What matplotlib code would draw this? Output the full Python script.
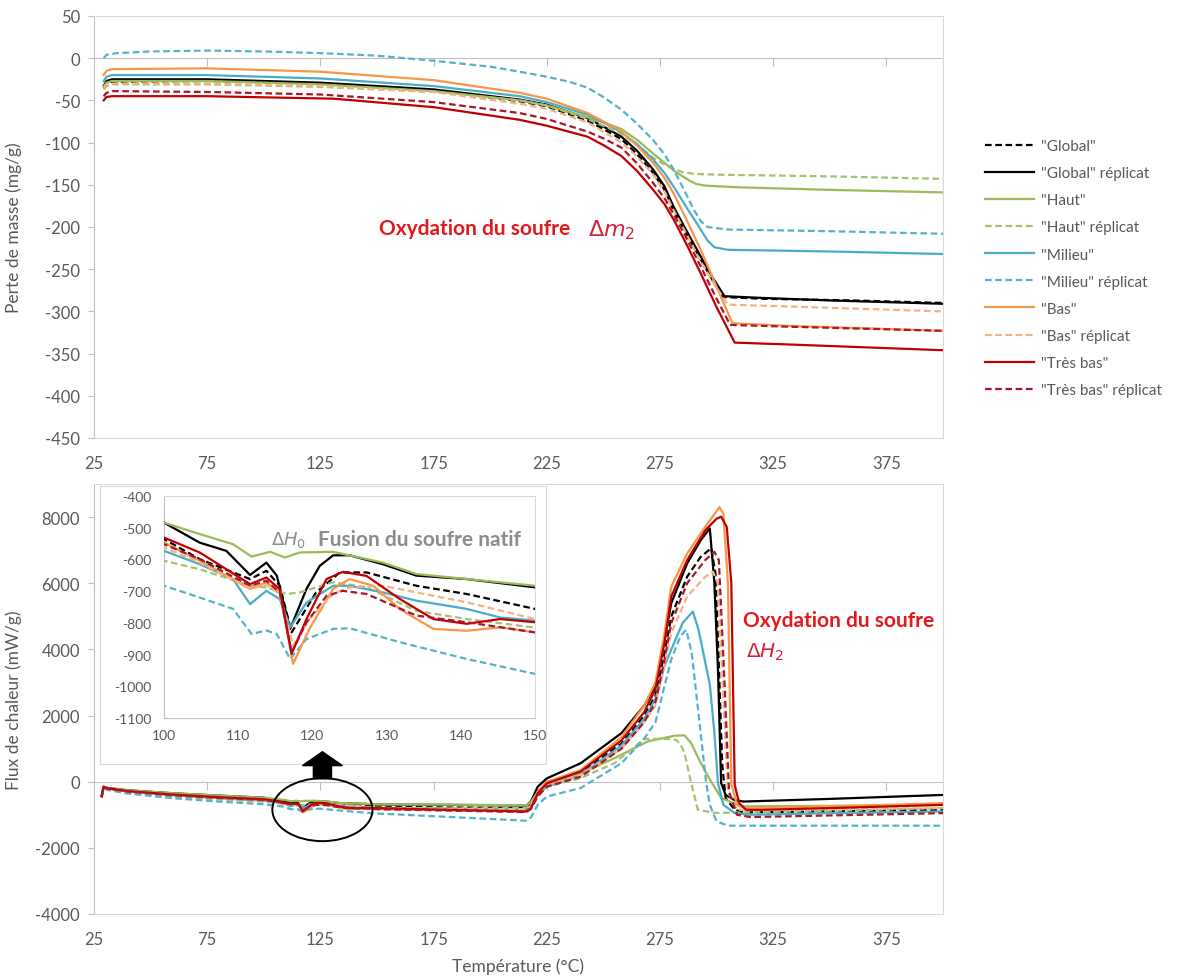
import numpy as np
import matplotlib
matplotlib.use('Agg')
import matplotlib.pyplot as plt
from matplotlib.patches import Ellipse, FancyArrow, Rectangle
from matplotlib.lines import Line2D

plt.rcParams['font.family'] = ['Lato', 'DejaVu Sans']
plt.rcParams['mathtext.fontset'] = 'dejavusans'
plt.rcParams['axes.unicode_minus'] = False

GREY = '#595959'
AXC = '#BFBFBF'

labels = ['"Global"', '"Global" réplicat', '"Haut"', '"Haut" réplicat',
          '"Milieu"', '"Milieu" réplicat', '"Bas"', '"Bas" réplicat',
          '"Très bas"', '"Très bas" réplicat']
colors = ['#000000', '#000000', '#9BBB59', '#A9BF74', '#4BACC6', '#55B2CC',
          '#F79646', '#F4B183', '#C00000', '#A8182A']
dashed = [True, False, False, True, False, True, False, True, False, True]

xticks = [25, 75, 125, 175, 225, 275, 325, 375]

# ---- perte de masse (TG), mg/g ----
tg_t_global = [29.3, 30.5, 33, 75, 125, 175, 213, 225, 243, 250, 258, 265, 272, 277, 281, 287, 293, 298, 303, 320, 360, 400]
tg_global = [-36, -30, -28, -27, -30, -38, -51, -57, -74, -84, -96, -114, -136, -156, -180, -210, -238, -262, -283, -285, -287, -290]
tg_t_global_r = [29.3, 30.5, 33, 75, 125, 175, 213, 225, 243, 250, 258, 265, 272, 277, 281, 287, 293, 298, 303.5, 320, 350, 400]
tg_global_r = [-33, -27, -25, -25, -29, -37, -49, -55, -71, -81, -93, -110, -132, -152, -176, -206, -235, -259, -282, -284, -287, -291]
tg_t_haut = [29.3, 30.5, 33, 75, 125, 175, 213, 225, 243, 250, 258, 265, 272, 277, 281, 285, 288, 291, 295, 310, 350, 400]
tg_haut = [-34, -29, -27, -27, -31, -39, -50, -56, -70, -76, -84, -97, -113, -124, -133, -140, -145, -149, -151, -153, -156, -159]
tg_t_haut_r = [29.3, 30.5, 33, 75, 125, 175, 213, 225, 243, 250, 258, 265, 272, 277, 281, 285, 290, 300, 350, 400]
tg_haut_r = [-37, -33, -31, -31, -34, -40, -50, -56, -72, -80, -90, -103, -118, -126, -131, -135, -137, -138, -140, -143]
tg_t_milieu = [29.3, 30.5, 33, 75, 125, 175, 213, 225, 243, 250, 258, 265, 272, 277, 281, 287, 293, 296, 299, 305, 350, 400]
tg_milieu = [-27, -22, -20, -20, -24, -33, -45, -52, -67, -76, -88, -102, -120, -136, -152, -178, -203, -216, -224, -227, -229, -232]
tg_t_milieu_r = [29.3, 30.5, 35, 50, 75, 100, 125, 150, 175, 200, 213, 225, 235, 243, 250, 258, 265, 272, 277, 281,
                 286, 290, 293, 296, 305, 350, 400]
tg_milieu_r = [0, 4, 6, 8, 9, 8, 6, 3, -3, -10, -16, -22, -28, -35, -46, -61, -78, -97, -114, -132,
               -158, -180, -193, -200, -203, -205, -208]
tg_t_bas = [29.3, 30.5, 33, 75, 125, 175, 213, 225, 243, 250, 258, 265, 272, 277, 281, 287, 293, 300, 307, 330, 400]
tg_bas = [-20, -15, -13, -12, -16, -26, -41, -48, -65, -75, -87, -104, -124, -142, -160, -193, -227, -271, -314, -317, -323]
tg_t_bas_r = [29.3, 30.5, 33, 75, 125, 175, 213, 225, 243, 250, 258, 265, 272, 277, 281, 287, 293, 299, 305, 330, 400]
tg_bas_r = [-35, -31, -30, -30, -33, -40, -54, -60, -76, -87, -100, -117, -138, -158, -180, -210, -241, -268, -292, -294, -300]
tg_t_tresbas = [29.3, 30.5, 33, 75, 131, 175, 213, 225, 243, 250, 258, 265, 272, 277, 281, 287, 293, 300, 308, 330, 400]
tg_tresbas = [-50, -46, -45, -45, -48, -58, -73, -80, -93, -103, -116, -134, -156, -173, -191, -222, -255, -295, -337, -339, -346]
tg_t_tresbas_r = [29.3, 30.5, 33, 75, 125, 175, 213, 225, 243, 250, 258, 265, 272, 277, 281, 287, 293, 300, 306, 330, 400]
tg_tresbas_r = [-45, -41, -39, -40, -43, -52, -65, -72, -87, -95, -106, -125, -148, -166, -185, -215, -247, -285, -316, -318, -323]

# ---- flux de chaleur (DSC), mW/g ----
dsc_t_global = [28.4, 29.2, 31, 40, 60, 80, 100, 104.8, 111.6, 113.8, 115.6, 117.2, 118.3, 120.5, 123.7,
                127.3, 134, 140.8, 150, 180, 216, 218, 221, 225, 240, 258, 268, 273, 277, 280, 287, 293,
                297.6, 299.5, 301, 302.5, 304, 308, 312, 350, 400]
dsc_global = [-450, -170, -210, -290, -390, -470, -536, -599, -662, -636, -683, -830, -788, -704, -641,
              -641, -683, -709, -756, -780, -800, -700, -300, -80, 300, 1150, 2000, 2600, 3900, 5000, 6200, 6800,
              7057, 6300, 3500, 500, -500, -850, -930, -900, -850]
dsc_t_global_r = [28.4, 29.2, 31, 40, 60, 80, 100, 104.8, 108.4, 111.6, 113.8, 115.2, 117, 119.2, 121, 122.8,
                  125, 129.5, 134, 140.8, 150, 180, 216, 218, 221, 225, 240, 258, 268, 273, 277, 280, 287,
                  293, 297, 299, 300.6, 302, 304, 308, 312, 350, 400]
dsc_global_r = [-430, -150, -190, -260, -350, -420, -484, -547, -573, -649, -610, -651, -819, -693, -620, -587,
                -587, -615, -651, -662, -688, -700, -720, -600, -150, 100, 560, 1470, 2300, 2900, 4300, 5400, 6600,
                7300, 7660, 6030, 3400, -40, -400, -560, -600, -520, -400]
dsc_t_haut = [28.4, 29.2, 31, 40, 60, 80, 100, 104.8, 109.3, 111.8, 114.3, 116.3, 118.3, 122.8, 129.5, 134,
              150, 180, 216, 218, 221, 225, 240, 255, 269.6, 281.4, 285.8, 288.8, 292, 296.2, 302, 311, 350, 400]
dsc_haut = [-430, -150, -190, -260, -350, -420, -484, -520, -552, -591, -576, -594, -578, -576, -610, -646,
            -683, -695, -710, -620, -300, -80, 250, 715, 1218, 1390, 1400, 1167, 700, 161, -493, -745, -730, -700]
dsc_t_haut_r = [28.4, 29.2, 31, 40, 60, 80, 100, 104.8, 111.6, 113.8, 116.5, 118.3, 122.8, 127.3, 134, 140.8,
                150, 180, 216, 218, 221, 225, 240, 255, 268, 275.5, 282, 284, 285.8, 288.8, 291.7, 299, 350, 400]
dsc_haut_r = [-460, -190, -230, -330, -450, -540, -604, -631, -683, -688, -709, -704, -672, -688, -762, -788,
              -815, -810, -800, -700, -350, -150, 110, 564, 1289, 1300, 1268, 1150, 866, -50, -846, -946, -880, -800]
dsc_t_milieu = [28.4, 29.2, 31, 40, 60, 80, 100, 104.8, 109.3, 111.6, 113.8, 115.6, 117, 119.2, 122.8, 125,
                129.5, 134, 140.8, 145.3, 150, 180, 216, 218, 221, 225, 240, 258, 268, 273, 277, 280, 285,
                289.5, 292, 297, 299, 300.6, 303, 308, 315, 350, 400]
dsc_milieu = [-450, -170, -210, -300, -410, -500, -573, -615, -662, -741, -699, -725, -814, -736, -683, -683,
              -704, -730, -756, -783, -793, -820, -850, -750, -400, -150, 200, 1100, 1900, 2500, 3500, 4000, 4800,
              5143, 4600, 2940, 1500, -40, -700, -950, -1000, -950, -900]
dsc_t_milieu_r = [28.4, 29.2, 31, 40, 60, 80, 100, 104.8, 109.3, 111.8, 113.8, 115.2, 117, 119.2, 122.8, 125,
                  131.8, 140.8, 150, 180, 216, 218, 221, 225, 240, 258, 268, 273, 277, 280, 284, 286.6, 289,
                  293, 295.4, 297, 300, 305, 350, 400]
dsc_milieu_r = [-470, -200, -250, -360, -500, -600, -683, -720, -756, -835, -824, -835, -914, -851, -819, -817,
                -861, -914, -961, -1060, -1180, -1080, -700, -450, -190, 560, 1300, 1800, 2900, 3700, 4400, 4590, 3900,
                1450, -40, -700, -1200, -1330, -1330, -1330]
dsc_t_bas = [28.4, 29.2, 31, 40, 60, 80, 100, 104.8, 111.6, 113.8, 115.6, 117.4, 119.6, 122.8, 125, 128.2,
             131.8, 136.3, 140.8, 145.3, 150, 180, 216, 218, 221, 225, 240, 258, 268, 273, 277, 280, 287, 295,
             301.3, 303, 305, 306.5, 309, 313, 360, 400]
dsc_bas = [-450, -170, -210, -290, -400, -485, -547, -604, -693, -672, -704, -929, -819, -693, -662, -683,
           -757, -819, -825, -814, -830, -860, -900, -800, -300, 0, 350, 1350, 2300, 3000, 4500, 5900, 6900, 7711,
           8300, 8100, 6000, -50, -700, -800, -730, -650]
dsc_t_bas_r = [28.4, 29.2, 31, 40, 60, 80, 100, 104.8, 111.6, 113.8, 115.6, 117.4, 119.6, 122.8, 125, 129.5,
               134, 140.8, 150, 180, 216, 218, 221, 225, 240, 258, 268, 273, 277, 280, 287, 295, 298.4, 300.5,
               303, 305, 309, 350, 400]
dsc_bas_r = [-450, -180, -220, -300, -410, -495, -562, -610, -693, -681, -709, -872, -788, -709, -688, -683,
             -704, -735, -788, -810, -830, -730, -350, -100, 200, 1000, 1800, 2300, 3500, 4500, 5600, 6200, 6350, 6000,
             2500, -300, -850, -820, -800]
dsc_t_tresbas = [28.4, 29.2, 31, 40, 60, 80, 100, 104.8, 111.6, 113.8, 115.6, 117.2, 119.2, 121.9, 124.1, 127.3,
                 131.8, 136.3, 140.8, 145.3, 150, 180, 216, 218, 221, 225, 240, 258, 268, 273, 277, 280, 287, 295,
                 300, 302, 304.5, 306.5, 308, 310, 313, 320, 360, 400]
dsc_tresbas = [-440, -160, -200, -285, -390, -470, -531, -578, -678, -657, -694, -898, -788, -662, -639, -652,
               -725, -788, -803, -788, -798, -850, -900, -800, -350, -50, 310, 1250, 2100, 2800, 4200, 5600, 6700, 7600,
               7950, 8013, 7700, 6000, -100, -650, -850, -850, -780, -700]
dsc_t_tresbas_r = [28.4, 29.2, 31, 40, 60, 80, 100, 104.8, 111.6, 113.8, 115.6, 117.2, 119.2, 121.9, 124.1, 127.3,
                   134, 140.8, 150, 180, 216, 218, 221, 225, 240, 258, 268, 273, 277, 280, 287, 295, 299, 301,
                   303.5, 305.5, 309, 315, 400]
dsc_tresbas_r = [-450, -175, -215, -300, -410, -490, -552, -599, -683, -667, -704, -893, -799, -715, -699, -709,
                 -777, -798, -830, -870, -920, -820, -450, -150, 150, 1000, 1800, 2400, 3700, 4800, 6000, 6700, 6950, 6700,
                 3000, -300, -1000, -1070, -950]

tg_series = [(tg_t_global, tg_global), (tg_t_global_r, tg_global_r), (tg_t_haut, tg_haut),
             (tg_t_haut_r, tg_haut_r), (tg_t_milieu, tg_milieu), (tg_t_milieu_r, tg_milieu_r),
             (tg_t_bas, tg_bas), (tg_t_bas_r, tg_bas_r), (tg_t_tresbas, tg_tresbas),
             (tg_t_tresbas_r, tg_tresbas_r)]
dsc_series = [(dsc_t_global, dsc_global), (dsc_t_global_r, dsc_global_r), (dsc_t_haut, dsc_haut),
              (dsc_t_haut_r, dsc_haut_r), (dsc_t_milieu, dsc_milieu), (dsc_t_milieu_r, dsc_milieu_r),
              (dsc_t_bas, dsc_bas), (dsc_t_bas_r, dsc_bas_r), (dsc_t_tresbas, dsc_tresbas),
              (dsc_t_tresbas_r, dsc_tresbas_r)]

W, H = 1179, 979
def fx(p):
    return p / W
def fy(p):
    return 1 - p / H

fig = plt.figure(figsize=(W / 100, H / 100), dpi=100)
ax1 = fig.add_axes([fx(94), fy(439), fx(943) - fx(94), fy(17) - fy(439)])
ax2 = fig.add_axes([fx(94), fy(915), fx(943) - fx(94), fy(485) - fy(915)])

DASH = (0, (3, 1.6))


def draw(ax, series):
    for (t, v), c, d in zip(series, colors, dashed):
        ax.plot(t, v, color=c, lw=1.6, ls=DASH if d else '-', zorder=3,
                solid_joinstyle='round')


def style(ax, ylim, yticks):
    ax.set_xlim(25, 400)
    ax.set_ylim(*ylim)
    ax.set_xticks(xticks)
    ax.set_yticks(yticks)
    ax.tick_params(axis='x', length=0, pad=12, labelsize=12, labelcolor=GREY)
    ax.tick_params(axis='y', length=4, width=0.8, color=AXC, pad=6, labelsize=12, labelcolor=GREY)
    for s in ['top', 'right', 'bottom']:
        ax.spines[s].set_color('#D9D9D9')
        ax.spines[s].set_linewidth(0.8)
    ax.spines['left'].set_color(AXC)
    ax.spines['left'].set_linewidth(0.8)
    # axe horizontal a zero avec graduations (style Excel)
    ax.axhline(0, color=AXC, lw=0.8, zorder=1)
    ax.plot(xticks[1:], np.zeros(len(xticks) - 1), ls='none', marker=3, ms=6,
            color=AXC, mew=0.8, zorder=1)


draw(ax1, tg_series)
style(ax1, (-450, 50), np.arange(-450, 51, 50))
ax1.set_ylabel('Perte de masse (mg/g)', fontsize=12.5, color=GREY)
ax1.yaxis.set_label_coords(-0.085, 0.5)
ax1.text(150.7, -201, 'Oxydation du soufre', fontsize=15, fontweight='bold',
         color='#E31A1C', va='center')
ax1.text(243, -203, r'$\mathit{\Delta m_2}$', fontsize=16, color='#D6213A', va='center')

draw(ax2, dsc_series)
style(ax2, (-4000, 9000), np.arange(-4000, 8001, 2000))
ax2.set_ylabel('Flux de chaleur (mW/g)', fontsize=12.5, color=GREY)
ax2.yaxis.set_label_coords(-0.085, 0.5)
ax2.set_xlabel('Température (°C)', fontsize=12.5, color=GREY)
ax2.xaxis.set_label_coords(0.5, -0.1)
ax2.text(311.7, 4892, 'Oxydation du soufre', fontsize=15, fontweight='bold',
         color='#E31A1C', va='center')
ax2.text(313, 3926, r'$\mathit{\Delta H_2}$', fontsize=14.5, color='#D6213A', va='center')
ax2.add_patch(Ellipse((125.9, -846), 44.25, 1903, fill=False, ec='black', lw=1.4, zorder=5))

# encart : zoom sur la fusion du soufre natif
bg = Rectangle((fx(100), fy(765)), fx(546) - fx(100), fy(487) - fy(765), transform=fig.transFigure,
               fc='white', ec='#D9D9D9', lw=0.8, zorder=2)
fig.add_artist(bg)
axin = fig.add_axes([fx(164), fy(719), fx(535) - fx(164), fy(497) - fy(719)])
axin.set_zorder(3)
draw(axin, dsc_series)
axin.set_xlim(100, 150)
axin.set_ylim(-1100, -400)
axin.set_xticks(np.arange(100, 151, 10))
axin.set_yticks(np.arange(-1100, -399, 100))
axin.tick_params(axis='x', length=0, pad=8, labelsize=10, labelcolor=GREY)
axin.tick_params(axis='y', length=0, pad=9, labelsize=10, labelcolor=GREY)
for s in axin.spines.values():
    s.set_color('#D9D9D9')
    s.set_linewidth(0.8)
axin.spines['left'].set_color(AXC)
axin.spines['bottom'].set_color(AXC)
axin.text(114.4, -535, r'$\mathit{\Delta H_0}$', fontsize=13, color='#8C8C8C', va='center')
axin.text(120.75, -535, 'Fusion du soufre natif', fontsize=15, fontweight='bold',
          color='#8C8C8C', va='center')

arrow = FancyArrow(125.9, 91, 0, 815, width=8, head_width=17.7, head_length=420,
                   length_includes_head=True, transform=ax2.transData, color='black', zorder=4)
fig.add_artist(arrow)

handles = [Line2D([], [], color=c, lw=1.6, ls=DASH if d else '-') for c, d in zip(colors, dashed)]
fig.legend(handles, labels, loc='upper left', bbox_to_anchor=(fx(985), fy(140)), frameon=False,
           fontsize=11, handlelength=3.2, handletextpad=0.45, labelspacing=0.86,
           borderpad=0, borderaxespad=0, labelcolor=GREY)

fig.savefig('out.png', dpi=100, facecolor='white')
